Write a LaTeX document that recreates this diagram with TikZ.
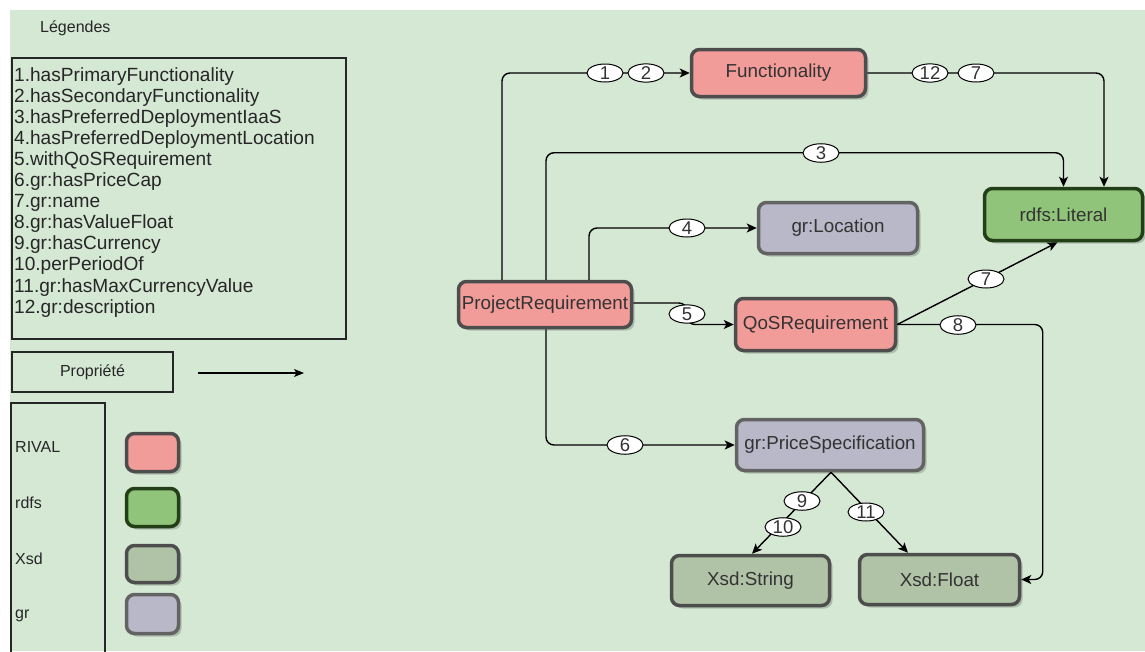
\documentclass[tikz,border=0pt]{standalone}
\usepackage{fontspec}
\setmainfont{Liberation Sans}
\usetikzlibrary{shapes.geometric,arrows.meta,shadows,calc}
\definecolor{bg}{HTML}{D5E8D4}
\definecolor{rivalfill}{HTML}{F19C99}
\definecolor{rivaldraw}{HTML}{4D4D4D}
\definecolor{rdfsfill}{HTML}{8FC47A}
\definecolor{rdfsdraw}{HTML}{233F17}
\definecolor{xsdfill}{HTML}{B1C3A7}
\definecolor{xsddraw}{HTML}{4D4D4D}
\definecolor{grfill}{HTML}{B8B8C8}
\definecolor{grdraw}{HTML}{636363}
\definecolor{txt}{HTML}{333333}
\tikzset{
  box/.style={rectangle, rounded corners=8pt, line width=3.5pt, text=txt,
    font=\fontsize{18.8}{20}\selectfont, inner sep=0pt,
    drop shadow={shadow xshift=3pt, shadow yshift=-3pt, fill=black, opacity=0.18}},
  rival/.style={box, fill=rivalfill, draw=rivaldraw},
  rdfs/.style={box, fill=rdfsfill, draw=rdfsdraw},
  xsd/.style={box, fill=xsdfill, draw=xsddraw},
  gr/.style={box, fill=grfill, draw=grdraw},
  edge/.style={line width=1.4pt, rounded corners=8pt,
    -{Stealth[length=10pt,width=9pt,inset=2.5pt]}},
  lbl/.style={ellipse, draw, fill=white, line width=1pt, inner sep=0pt,
    minimum width=36pt, minimum height=18pt, text=txt,
    font=\fontsize{18.5}{18}\selectfont},
  legtext/.style={font=\fontsize{19.1}{20}\selectfont, text=black!85, inner sep=0pt},
  smalltext/.style={font=\fontsize{16}{18}\selectfont, text=black!85, inner sep=0pt},
  legline/.style={line width=1.3pt, draw=black!85}
}
\begin{document}
\begin{tikzpicture}[x=1pt,y=-1pt]
\useasboundingbox (0,0) rectangle (1145,651);
\fill[bg] (10,10) rectangle (1145,651);

% ---------- legend ----------
\node[smalltext, anchor=west] (legtitle) at (40,28) {Légendes};
\draw[legline] (12,58) rectangle (346,339);
\foreach \t [count=\i] in {1.hasPrimaryFunctionality,2.hasSecondaryFunctionality,3.hasPreferredDeploymentIaaS,4.hasPreferredDeploymentLocation,5.withQoSRequirement,6.gr:hasPriceCap,7.gr:name,8.gr:hasValueFloat,9.gr:hasCurrency,10.perPeriodOf,11.gr:hasMaxCurrencyValue,12.gr:description}
  \node[legtext, anchor=base west] (leg\i) at (14,{81+21.1*(\i-1)}) {\t};

\node[legline, draw, smalltext, minimum width=161pt, minimum height=40pt] (prop) at (92.5,372) {Propriété};
\coordinate (pa) at (198,373);
\coordinate (pb) at (304,373);
\draw[line width=1.3pt, -{Stealth[length=10pt,width=8pt,inset=2.5pt]}] (pa) -- (pb);

\draw[legline] (11,660) -- (11,403) -- (105,403) -- (105,660);
\node[smalltext, anchor=west] (tRival) at (15,447) {RIVAL};
\node[smalltext, anchor=west] (tRdfs) at (15,503) {rdfs};
\node[smalltext, anchor=west] (tXsd) at (15,559) {Xsd};
\node[smalltext, anchor=west] (tGr) at (15,616) {gr};

\node[rival, minimum width=52pt, minimum height=38pt] (swR) at (152.5,452.5) {};
\node[rdfs, minimum width=52pt, minimum height=38pt] (swD) at (152.5,507.5) {};
\node[xsd, minimum width=52pt, minimum height=37pt] (swX) at (152.5,564) {};
\node[gr, minimum width=52pt, minimum height=39pt] (swG) at (152.5,614) {};

% ---------- main nodes ----------
\node[rival, minimum width=174pt, minimum height=47pt] (func) at (778.5,73) {Functionality};
\node[rdfs, minimum width=158pt, minimum height=52pt] (lit) at (1063.5,214.5) {rdfs:Literal};
\node[gr, minimum width=159pt, minimum height=51pt] (loc) at (838,228) {gr:Location};
\node[rival, minimum width=173pt, minimum height=46pt] (pr) at (545,304.5) {ProjectRequirement};
\node[rival, minimum width=160pt, minimum height=52pt] (qos) at (815.5,324.5) {QoSRequirement};
\node[gr, minimum width=187pt, minimum height=51pt] (ps) at (830,445) {gr:PriceSpecification};
\node[xsd, minimum width=158pt, minimum height=50pt] (str) at (750.5,580.5) {Xsd:String};
\node[xsd, minimum width=160pt, minimum height=50pt] (flt) at (939.5,579.5) {Xsd:Float};

% ---------- connectors ----------
\draw[edge] ([xshift=-43pt]pr.north) |- (func.west);
\draw[edge] ([xshift=1pt]pr.north) |- ([yshift=34pt]lit.north) -- (lit.north);
\draw[edge] ([xshift=44pt]pr.north) |- (loc.west);
\draw[edge] (func.east) -| ([xshift=40.5pt]lit.north);
\coordinate (c5) at (687,314);
\draw[edge] ([yshift=1.5pt]pr.east) -| (c5) |- (qos.west);
\draw[edge] ([xshift=1pt]pr.south) |- (ps.west);
\draw[edge] (qos.east) -- ([xshift=-6pt]lit.south);
\draw[edge] (qos.east) -| ([xshift=21.5pt]flt.east) -- (flt.east);
\draw[edge] ([xshift=1pt]ps.south) -- ([xshift=1.5pt]str.north);
\draw[edge] ([xshift=1pt]ps.south) -- ([xshift=-31.5pt]flt.north);

% ---------- edge labels ----------
\node[lbl] (l1) at (605,73) {1};
\node[lbl] (l2) at (646,73) {2};
\node[lbl] (l12) at (930,73) {12};
\node[lbl] (l7a) at (976,73) {7};
\node[lbl] (l3) at (821,153) {3};
\node[lbl] (l4) at (687,228) {4};
\node[lbl] (l5) at (c5) {5};
\node[lbl] (l7b) at (986,279) {7};
\node[lbl] (l8) at (958,325) {8};
\node[lbl] (l6) at (625,445) {6};
\node[lbl] (l9) at (802,501) {9};
\node[lbl] (l10) at (783,527) {10};
\node[lbl] (l11) at (866,512) {11};
\end{tikzpicture}
\end{document}
